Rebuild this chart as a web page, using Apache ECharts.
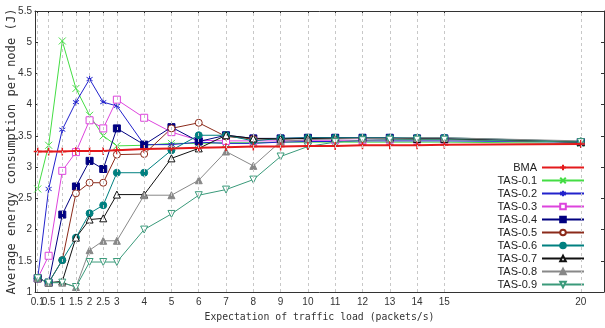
<!DOCTYPE html>
<html><head><meta charset="utf-8">
<script src="https://cdn.jsdelivr.net/npm/echarts@6/dist/echarts.min.js"></script>
<style>html,body{margin:0;padding:0;background:#fff}#c{width:605px;height:328px}</style>
</head><body><div id="c"></div>
<script>
const loads = [0.1,0.5,1,1.5,2,2.5,3,4,5,6,7,8,9,10,11,12,13,14,15,20];
const xTickValues = [0.1,0.5,1,1.5,2,2.5,3,4,5,6,7,8,9,10,11,12,13,14,15,20];
const seriesNames = ['BMA','TAS-0.1','TAS-0.2','TAS-0.3','TAS-0.4','TAS-0.5','TAS-0.6','TAS-0.7','TAS-0.8','TAS-0.9'];
const bma    = [3.25,3.25,3.25,3.26,3.26,3.26,3.27,3.29,3.30,3.31,3.32,3.33,3.33,3.34,3.34,3.35,3.35,3.35,3.36,3.37];
const tas01  = [2.65,3.35,5.02,4.26,3.83,3.50,3.34,3.35,3.38,3.38,3.39,3.39,3.40,3.40,3.40,3.40,3.40,3.40,3.40,3.38];
const tas02  = [1.22,2.65,3.60,4.04,4.41,4.04,3.98,3.36,3.36,3.40,3.38,3.38,3.40,3.41,3.41,3.42,3.42,3.42,3.42,3.40];
const tas03  = [1.22,1.58,2.94,3.24,3.75,3.62,4.08,3.79,3.56,3.43,3.42,3.42,3.42,3.43,3.43,3.43,3.44,3.44,3.44,3.40];
const tas04  = [1.22,1.15,2.24,2.69,3.10,2.97,3.62,3.36,3.64,3.41,3.51,3.46,3.46,3.47,3.47,3.47,3.47,3.46,3.46,3.40];
const tas05  = [1.22,1.15,1.51,2.58,2.75,2.75,3.20,3.21,3.62,3.71,3.49,3.45,3.45,3.46,3.46,3.46,3.46,3.45,3.45,3.40];
const tas06  = [1.22,1.15,1.51,1.87,2.26,2.39,2.91,2.91,3.27,3.51,3.51,3.42,3.46,3.47,3.47,3.47,3.47,3.47,3.47,3.41];
const tas07  = [1.22,1.15,1.17,1.87,2.16,2.18,2.56,2.56,3.14,3.30,3.51,3.46,3.45,3.46,3.46,3.46,3.46,3.45,3.45,3.40];
const tas08  = [1.22,1.15,1.15,1.08,1.67,1.82,1.82,2.55,2.55,2.79,3.25,3.02,3.41,3.44,3.45,3.46,3.46,3.47,3.47,3.42];
const tas09  = [1.22,1.15,1.15,1.08,1.48,1.48,1.48,2.00,2.25,2.55,2.64,2.80,3.17,3.33,3.40,3.43,3.44,3.44,3.44,3.40];
const allValues = [bma,tas01,tas02,tas03,tas04,tas05,tas06,tas07,tas08,tas09];

const colors = ['#e41a1c','#44dd44','#2222cc','#dd44dd','#000080','#8b2a1a','#008080','#111111','#888888','#3a9a7a'];
const symbols = [
  'path://M5,0L5,10M0,5L10,5',
  'path://M0,0L10,10M10,0L0,10',
  'path://M5,0L5,10M0.7,2.5L9.3,7.5M9.3,2.5L0.7,7.5',
  'rect','rect','circle','circle','triangle','triangle','triangle'
];
const hollow = [false,false,false,true,false,true,false,true,false,true];
const symbolSizes = [8,7,7,7,7,7,7,7,7,7];
const rotates = [0,0,0,0,0,0,0,0,0,180];

const series = seriesNames.map((n,i)=>({
  name:n, type:'line', data: loads.map((x,k)=>[x, allValues[i][k]]),
  symbol: symbols[i], symbolSize: symbolSizes[i], symbolRotate: rotates[i], symbolKeepAspect:true,
  showAllSymbol:true,
  lineStyle:{color:colors[i], width: i===0?2:1},
  itemStyle:{color: hollow[i] ? '#ffffff' : colors[i], borderColor:colors[i], borderWidth: i===0?1.5:1},
  emphasis:{disabled:true}, animation:false, z: i===0?3:2
}));
series.push({
  type:'line', data:[], silent:true, animation:false,
  markLine:{silent:true, symbol:'none', label:{show:false},
    lineStyle:{color:'#c8c8c8', type:[3,3], width:1},
    data: xTickValues.map(v=>({xAxis:v}))}
});

const labelStyle = {fontFamily:'Liberation Sans', fontSize:10, color:'#333', margin:5};
const chart = echarts.init(document.getElementById('c'));
chart.setOption({
  animation:false,
  grid:{left:35, top:11, right:1, bottom:36, outerBoundsMode:'none', containLabel:false},
  legend:{
    orient:'vertical', right:15, top:157, align:'right',
    data: seriesNames, itemWidth:42, itemHeight:7, itemGap:2,
    textStyle:{fontFamily:'Liberation Sans', fontSize:11, color:'#222', lineHeight:11}
  },
  xAxis:[{
    type:'value', min:0, max:20.85,
    name:'Expectation of traffic load (packets/s)', nameLocation:'middle', nameGap:20, nameMoveOverlap:false,
    nameTextStyle:{fontFamily:'DejaVu Sans Mono', fontSize:9.8, color:'#333'},
    axisLine:{show:true, lineStyle:{color:'#333'}},
    axisTick:{show:true, inside:true, length:3, customValues:xTickValues, lineStyle:{color:'#333'}},
    axisLabel:Object.assign({customValues:xTickValues.slice(1), hideOverlap:false}, labelStyle),
    splitLine:{show:false}
  },{
    type:'value', position:'top', min:0, max:20.85,
    axisLine:{show:true, onZero:false, lineStyle:{color:'#333'}},
    axisTick:{show:true, inside:true, length:3, customValues:xTickValues, lineStyle:{color:'#333'}},
    axisLabel:{show:false}, splitLine:{show:false}
  },{
    type:'value', position:'bottom', min:0, max:20.85,
    axisLine:{show:false}, axisTick:{show:false}, splitLine:{show:false},
    axisLabel:Object.assign({customValues:xTickValues.slice(0,1), hideOverlap:false}, labelStyle)
  }],
  yAxis:[{
    type:'value', min:1, max:5.5, interval:0.5,
    name:'Average energy consumption per node (J)', nameLocation:'middle', nameGap:17, nameMoveOverlap:false,
    nameTextStyle:{fontFamily:'DejaVu Sans Mono', fontSize:12.2, color:'#333'},
    axisLine:{show:true, lineStyle:{color:'#333'}},
    axisTick:{show:true, inside:true, length:3, lineStyle:{color:'#333'}},
    axisLabel:{fontFamily:'Liberation Sans', fontSize:10, color:'#333', margin:3},
    splitLine:{show:false}
  },{
    type:'value', position:'right', min:1, max:5.5, interval:0.5,
    axisLine:{show:true, onZero:false, lineStyle:{color:'#333'}},
    axisTick:{show:true, inside:true, length:3, lineStyle:{color:'#333'}},
    axisLabel:{show:false}, splitLine:{show:false}
  }],
  series: series
});
</script></body></html>
